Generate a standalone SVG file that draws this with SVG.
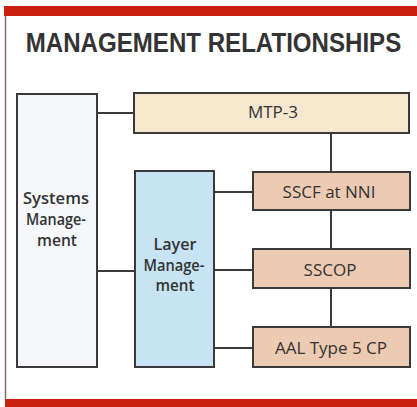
<svg xmlns="http://www.w3.org/2000/svg" width="417" height="407" viewBox="0 0 417 407">
<style>
.box{stroke:#3a3a3a;stroke-width:2}
.sys{fill:#f6f7fa}
.lay{fill:#c8e3f4}
.mtp{fill:#f6e7cf}
.prot{fill:#edcab2}
.lbl{font-family:"Open Sans","Liberation Sans",sans-serif;font-size:17px;fill:#333;text-anchor:middle}
.mg{font-weight:600;font-size:15.5px}
.conn line{stroke:#3a3a3a;stroke-width:2}
</style>
<rect width="417" height="407" fill="#ffffff"/>
<rect x="4" y="6" width="413" height="10" fill="#c9210f"/>
<rect x="5" y="399" width="412" height="8" fill="#c9210f"/>
<line x1="5.5" y1="16" x2="5.5" y2="399" stroke="#8a6a60" stroke-width="1.5"/>
<text transform="translate(213.5 52) scale(0.86 1)" x="0" y="0" font-family="Liberation Sans,Arial,sans-serif" font-weight="bold" font-size="28" fill="#333" text-anchor="middle">MANAGEMENT RELATIONSHIPS</text>
<g class="conn" id="connectors">
<line x1="97" y1="113" x2="134" y2="113"/>
<line x1="97" y1="271" x2="135" y2="271"/>
<line x1="331" y1="133" x2="331" y2="172"/>
<line x1="331" y1="210" x2="331" y2="249"/>
<line x1="331" y1="288" x2="331" y2="327"/>
<line x1="214" y1="192" x2="253" y2="192"/>
<line x1="214" y1="270" x2="253" y2="270"/>
<line x1="214" y1="348" x2="253" y2="348"/>
</g>
<g id="systems-management">
<rect class="box sys" x="17" y="94" width="80" height="273"/>
<text class="lbl mg" x="56" y="204" textLength="66" lengthAdjust="spacingAndGlyphs">Systems</text>
<text class="lbl mg" x="56" y="225" textLength="60" lengthAdjust="spacingAndGlyphs">Manage-</text>
<text class="lbl mg" x="57" y="246" textLength="40" lengthAdjust="spacingAndGlyphs">ment</text>
</g>
<g id="layer-management">
<rect class="box lay" x="135" y="171" width="79" height="196"/>
<text class="lbl mg" x="175" y="250" textLength="43" lengthAdjust="spacingAndGlyphs">Layer</text>
<text class="lbl mg" x="174" y="271" textLength="61" lengthAdjust="spacingAndGlyphs">Manage-</text>
<text class="lbl mg" x="175" y="291" textLength="39" lengthAdjust="spacingAndGlyphs">ment</text>
</g>
<g id="mtp3">
<rect class="box mtp" x="134" y="93" width="275" height="40"/>
<text class="lbl" x="273" y="118">MTP-3</text>
</g>
<g id="sscf">
<rect class="box prot" x="253" y="172" width="157" height="38"/>
<text class="lbl" x="329" y="198">SSCF at NNI</text>
</g>
<g id="sscop">
<rect class="box prot" x="253" y="249" width="157" height="39"/>
<text class="lbl" x="330" y="276">SSCOP</text>
</g>
<g id="aal5">
<rect class="box prot" x="253" y="327" width="157" height="40"/>
<text class="lbl" x="331" y="354">AAL Type 5 CP</text>
</g>
</svg>
